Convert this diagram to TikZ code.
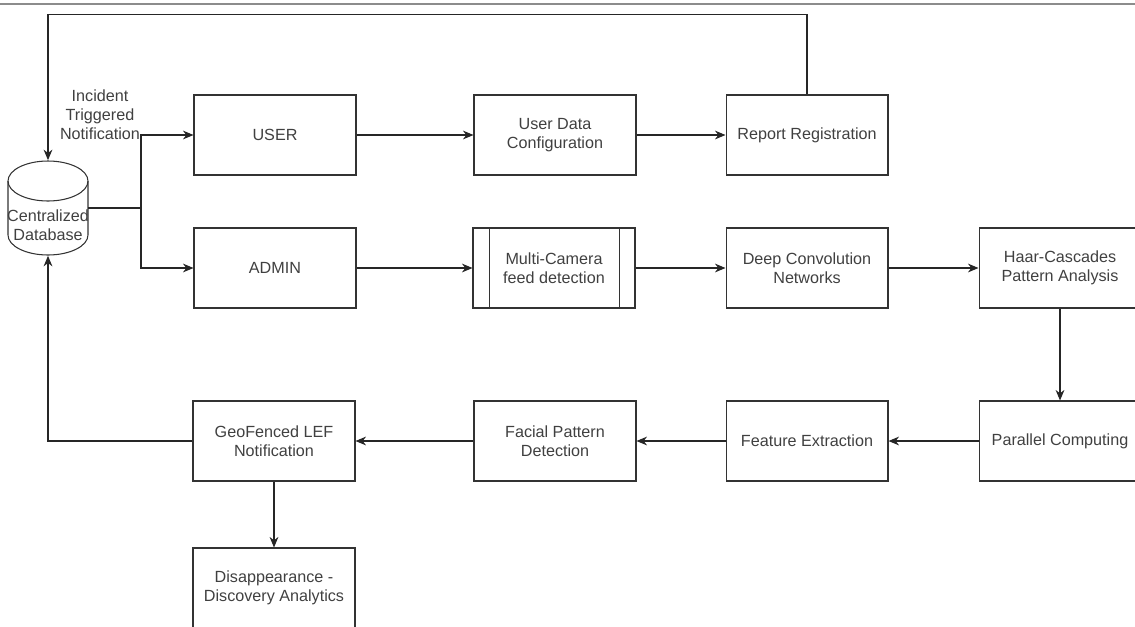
\documentclass[tikz,border=0pt]{standalone}
\usepackage{fontspec}
\setmainfont{Liberation Sans}
\usetikzlibrary{arrows.meta,calc}
\tikzset{
  box/.style={draw=black!80, line width=0.6pt, minimum width=3.24cm, minimum height=1.6cm,
    text=black!75, align=center, inner sep=1pt, font=\fontsize{9.2}{10.7}\selectfont},
  procbox/.style={box, path picture={
    \draw[black!80, line width=0.5pt] ($(path picture bounding box.north west)+(16,0)$) -- ($(path picture bounding box.south west)+(16,0)$);
    \draw[black!80, line width=0.5pt] ($(path picture bounding box.north east)+(-16,0)$) -- ($(path picture bounding box.south east)+(-16,0)$);}},
  arr/.style={draw=black!85, line width=0.6pt, -{Stealth[length=6pt,width=5pt]}},
  lbl/.style={text=black!75, align=center, font=\fontsize{9.2}{10.7}\selectfont}
}
\begin{document}
\begin{tikzpicture}[x=0.02cm, y=-0.02cm]
		%%%%% START %%%%%
		\clip (0,0) rectangle (1135,626);
		\draw[black!45, line width=0.6pt] (0,4) -- (1135,4);
		
		% database
		\node[minimum width=1.6cm, minimum height=1.9cm, inner sep=0pt] (db) at (48,208) {};
		\draw[black!80, line width=0.6pt] (48,181) ellipse (40 and 20);
		\draw[black!80, line width=0.6pt] (8,181) -- (8,235) arc (180:0:40 and 20) -- (88,181);
		\node[lbl] (dbtxt) at (48,225) {Centralized\\Database};
		\node[lbl] (notif) at (100,115) {Incident\\Triggered\\Notification};
		
		% rows
		\node[box] (user) at (275,135) {USER};
		\node[box] (udc) at (555,135) {User Data\\Configuration};
		\node[box] (rr) at (807,135) {Report Registration};
		
		\node[box] (admin) at (275,268) {ADMIN};
		\node[procbox] (mc) at (554,268) {Multi-Camera\\feed detection};
		\node[box] (dcn) at (807,268) {Deep Convolution\\Networks};
		\node[box] (haar) at (1060,268) {Haar-Cascades\\Pattern Analysis};
		
		\node[box] (pc) at (1060,441) {Parallel Computing};
		\node[box] (fe) at (807,441) {Feature Extraction};
		\node[box] (fpd) at (555,441) {Facial Pattern\\Detection};
		\node[box] (geo) at (274,441) {GeoFenced LEF\\Notification};
		\node[box] (dis) at (274,588) {Disappearance -\\Discovery Analytics};
		
		% connectors
		\draw[black!85, line width=0.6pt] (db.east) -- (141,208) coordinate (fork);
		\draw[arr] (fork) |- (user.west);
		\draw[arr] (fork) |- (admin.west);
		\draw[arr] (user) -- (udc);
		\draw[arr] (udc) -- (rr);
		\draw[arr] (rr.north) -- ++(0,-80) -| (db.north);
		\draw[arr] (admin) -- (mc);
		\draw[arr] (mc) -- (dcn);
		\draw[arr] (dcn) -- (haar);
		\draw[arr] (haar) -- (pc);
		\draw[arr] (pc) -- (fe);
		\draw[arr] (fe) -- (fpd);
		\draw[arr] (fpd) -- (geo);
		\draw[arr] (geo) -- (dis);
		\draw[arr] (geo.west) -| (db.south);
		%%%%% END %%%%%
	\end{tikzpicture}
\end{document}
